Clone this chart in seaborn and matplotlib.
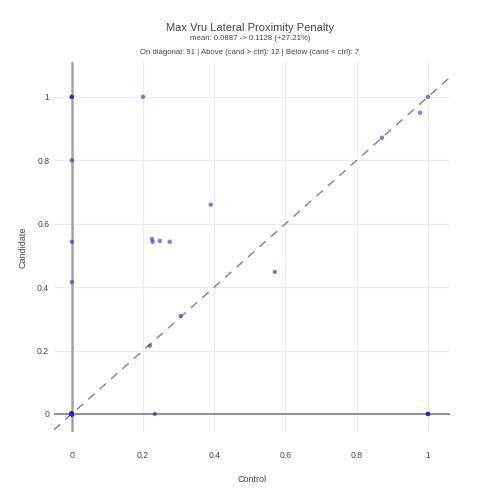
import matplotlib
matplotlib.use("Agg")
import matplotlib.pyplot as plt
import numpy as np
import pandas as pd
import seaborn as sns

# data (repeated points stack up at the same spot)
control = ([0.0] * 87 + [1.0, 0.871, 0.306, 0.219]
           + [0.0] * 3 + [0.2, 0.0, 0.39, 0.0, 0.225, 0.227, 0.247, 0.275, 0.0]
           + [0.978, 0.57, 0.233] + [1.0] * 4)
candidate = ([0.0] * 87 + [1.0, 0.871, 0.309, 0.215]
             + [1.0] * 3 + [1.0, 0.8, 0.66, 0.543, 0.552, 0.543, 0.546, 0.543, 0.416]
             + [0.95, 0.448, 0.0] + [0.0] * 4)
ticks = [0, 0.2, 0.4, 0.6, 0.8, 1]
tick_labels = ["0", "0.2", "0.4", "0.6", "0.8", "1"]

df = pd.DataFrame({"Control": control, "Candidate": candidate})

sns.set_theme(style="white")
plt.rcParams["font.family"] = ["Liberation Sans", "DejaVu Sans"]

fig = plt.figure(figsize=(5, 5), dpi=100)
ax = fig.add_axes([0.108, 0.136, 0.792, 0.74])

ax.grid(True, color="#ebebeb", linewidth=0.8)
ax.set_axisbelow(True)
ax.axhline(0, color="#444444", linewidth=1.2, alpha=0.65, zorder=1)
ax.axvline(0, color="#444444", linewidth=1.8, alpha=0.45, zorder=1)
ax.axline((0, 0), slope=1, color="#808080", linewidth=1.0,
          linestyle=(0, (6, 5)), zorder=2)

sns.scatterplot(data=df, x="Control", y="Candidate", ax=ax, color="#2020ff",
                alpha=0.6, s=10, edgecolor="none", zorder=3)

ax.set_xlim(-0.05, 1.062)
ax.set_ylim(-0.057, 1.11)
ax.set_xticks(ticks)
ax.set_xticklabels(tick_labels)
ax.set_yticks(ticks)
ax.set_yticklabels(tick_labels)
ax.tick_params(axis="both", length=0, labelsize=6.2, labelcolor="#444444")
ax.tick_params(axis="x", pad=14)
ax.tick_params(axis="y", pad=3.5)
for s in ax.spines.values():
    s.set_visible(False)

ax.set_xlabel("Control", fontsize=6.5, color="#444444")
ax.set_ylabel("Candidate", fontsize=6.5, color="#444444")
ax.xaxis.set_label_coords(0.5, -0.129)
ax.xaxis.label.set_va("center")
ax.yaxis.set_label_coords(-0.078, 0.5)
ax.yaxis.label.set_va("center")

fig.text(0.5, 0.944, "Max Vru Lateral Proximity Penalty", ha="center",
         va="center", fontsize=8, color="#444444")
fig.text(0.5, 0.923, "mean: 0.0887 -> 0.1128 (+27.21%)", ha="center",
         va="center", fontsize=5.6, color="#444444")
fig.text(0.5, 0.896, "On diagonal: 91 | Above (cand > ctrl): 12 | Below (cand < ctrl): 7",
         ha="center", va="center", fontsize=5.6, color="#444444")

fig.savefig("out.png", dpi=100, facecolor="white")
